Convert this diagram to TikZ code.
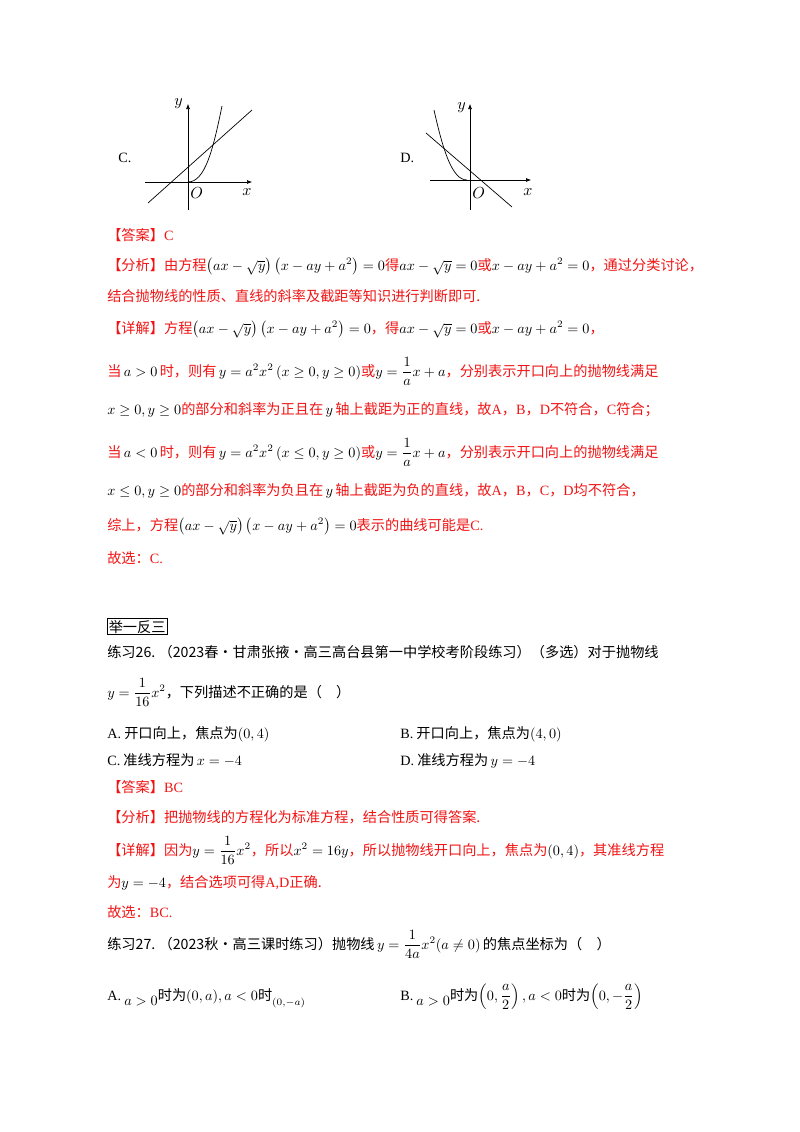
\documentclass[tikz,border=0pt]{standalone}
\usepackage{amsmath}
\usepackage{fontspec}
\usetikzlibrary{arrows.meta}
\setmainfont{Noto Sans CJK SC}
\newfontfamily\lat{Liberation Serif}
\definecolor{ared}{RGB}{240,20,20}
\newcommand{\mb}[1]{\textcolor{black}{#1}}
\begin{document}
\begin{tikzpicture}[x=1pt,y=-1pt,
  t/.style={anchor=base west,inner sep=0pt,scale=1.42,transform shape},
  g/.style={anchor=base west,inner sep=0pt,scale=1.6,transform shape},
  r/.style={t,text=ared},
  ax/.style={-{Latex[length=5pt,width=4pt]},line width=0.6pt},
  cv/.style={line width=0.7pt}]
\useasboundingbox (0,0) rectangle (800,1132);
% graph C
\draw[ax] (188,210) -- (188,104);
\draw[ax] (145,182) -- (252,182);
\draw[cv] (188,182) .. controls (205,182) and (213,150) .. (222,106);
\draw[cv] (148,203) -- (252,110);
\node[t] (lc) at (118,162) {{\lat C.}};
\node[g] (oc) at (190,198) {$O$};
\node[g] (xc) at (242,195) {$x$};
\node[g] (yc) at (174,105) {$y$};
% graph D
\draw[ax] (470,210) -- (470,104);
\draw[ax] (430,180) -- (531,180);
\draw[cv] (434,110) .. controls (443,150) and (452,180) .. (467,180);
\draw[cv] (426,133) -- (512,207);
\node[t] (ld) at (400,162) {{\lat D.}};
\node[g] (od) at (472,198) {$O$};
\node[g] (xd) at (523,195) {$x$};
\node[g] (yd) at (457,109) {$y$};
% answer text
\node[r] (a1) at (107,240) {【答案】{\lat C}};
\node[r] (a2) at (107,270) {【分析】由方程\mb{$\left(ax-\sqrt{y}\right)\left(x-ay+a^2\right)=0$}得\mb{$ax-\sqrt{y}=0$}或\mb{$x-ay+a^2=0$}，通过分类讨论，};
\node[r] (a3) at (107,301) {结合抛物线的性质、直线的斜率及截距等知识进行判断即可.};
\node[r] (a4) at (107,333) {【详解】方程\mb{$\left(ax-\sqrt{y}\right)\left(x-ay+a^2\right)=0$}，得\mb{$ax-\sqrt{y}=0$}或\mb{$x-ay+a^2=0$}，};
\node[r] (a5) at (107,376) {当\mb{$\,a>0\,$}时，则有\mb{$\,y=a^2x^2\left(x\ge0,y\ge0\right)$}或\mb{$y=\dfrac{1}{a}x+a$}，分别表示开口向上的抛物线满足};
\node[r] (a6) at (107,414) {\mb{$x\ge0,y\ge0$}的部分和斜率为正且在\mb{$\,y\,$}轴上截距为正的直线，故{\lat A}，{\lat B}，{\lat D}不符合，{\lat C}符合；};
\node[r] (a7) at (107,457) {当\mb{$\,a<0\,$}时，则有\mb{$\,y=a^2x^2\left(x\le0,y\ge0\right)$}或\mb{$y=\dfrac{1}{a}x+a$}，分别表示开口向上的抛物线满足};
\node[r] (a8) at (107,495) {\mb{$x\le0,y\ge0$}的部分和斜率为负且在\mb{$\,y\,$}轴上截距为负的直线，故{\lat A}，{\lat B}，{\lat C}，{\lat D}均不符合，};
\node[r] (a9) at (107,530) {综上，方程\mb{$\left(ax-\sqrt{y}\right)\left(x-ay+a^2\right)=0$}表示的曲线可能是{\lat C.}};
\node[r] (a10) at (107,563) {故选：{\lat C.}};
% 举一反三
\node[t,draw,line width=0.5pt,inner sep=1pt] (jy) at (107,632) {举一反三};
\node[t] (p26) at (107,657) {练习26.\ （2023春·甘肃张掖·高三高台县第一中学校考阶段练习）（多选）对于抛物线};
\node[t] (p26b) at (107,697) {$y=\dfrac{1}{16}x^2$，下列描述不正确的是（\quad）};
\node[t] (oa) at (107,738) {{\lat A.}\ 开口向上，焦点为$(0,4)$};
\node[t] (ob) at (400,738) {{\lat B.}\ 开口向上，焦点为$(4,0)$};
\node[t] (oc2) at (107,765) {{\lat C.}\ 准线方程为$\,x=-4$};
\node[t] (od2) at (400,765) {{\lat D.}\ 准线方程为$\,y=-4$};
\node[r] (b1) at (107,792) {【答案】{\lat BC}};
\node[r] (b2) at (107,822) {【分析】把抛物线的方程化为标准方程，结合性质可得答案.};
\node[r] (b3) at (107,855) {【详解】因为\mb{$y=\dfrac{1}{16}x^2$}，所以\mb{$x^2=16y$}，所以抛物线开口向上，焦点为\mb{$(0,4)$}，其准线方程};
\node[r] (b4) at (107,887) {为\mb{$y=-4$}，结合选项可得{\lat A,D}正确.};
\node[r] (b5) at (107,917) {故选：{\lat BC.}};
\node[t] (p27) at (107,949) {练习27.\ （2023秋·高三课时练习）抛物线\,$y=\dfrac{1}{4a}x^2(a\ne0)$\,的焦点坐标为（\quad）};
\node[t] (qa) at (107,1000) {{\lat A.}\ \raisebox{-4pt}{$a>0$}时为$(0,a),a<0$时\raisebox{-4pt}{$\scriptstyle(0,-a)$}};
\node[t] (qb) at (400,1000) {{\lat B.}\ \raisebox{-4pt}{$a>0$}时为$\left(0,\dfrac{a}{2}\right),a<0$时为$\left(0,-\dfrac{a}{2}\right)$};
\end{tikzpicture}
\end{document}
